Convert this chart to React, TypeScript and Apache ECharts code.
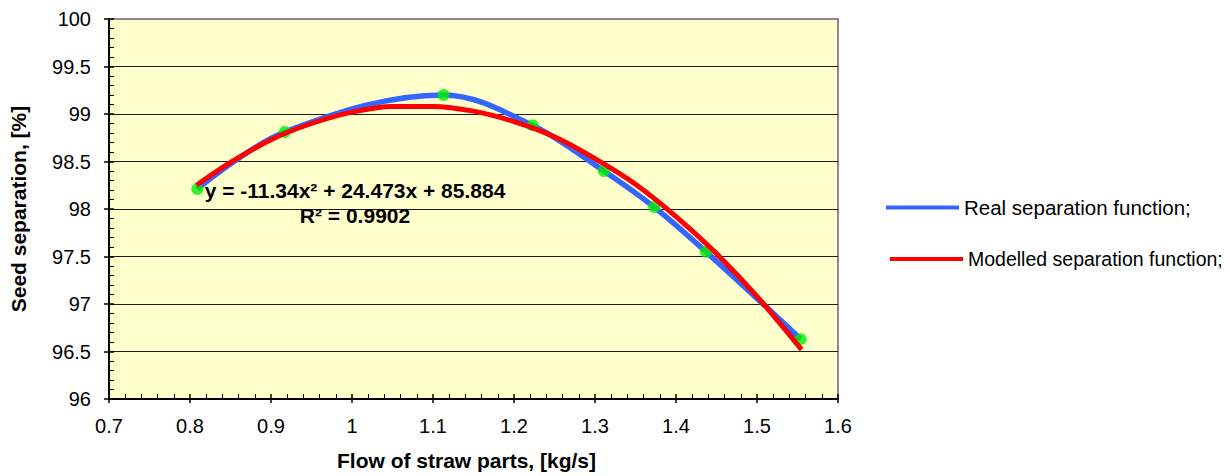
import React, { useEffect, useRef } from 'react';
import * as echarts from 'echarts';

// Axis ranges / ticks
const xMin = 0.7;
const xMax = 1.6;
const xStep = 0.1;
const yMin = 96;
const yMax = 100;
const yStep = 0.5;

// Measured points (real separation function)
const measuredX = [0.809, 0.917, 1.113, 1.223, 1.311, 1.373, 1.437, 1.554];
const measuredY = [98.21, 98.81, 99.2, 98.88, 98.4, 98.02, 97.55, 96.63];

// Modelled separation function (trend line)
const modelX = [0.808, 0.85, 0.9, 0.95, 1.0, 1.05, 1.1, 1.15, 1.2, 1.25, 1.3, 1.35, 1.4, 1.45, 1.5, 1.555];
const modelY = [98.25, 98.49, 98.73, 98.9, 99.02, 99.08, 99.08, 99.03, 98.92, 98.76, 98.53, 98.26, 97.92, 97.53, 97.08, 96.52];

const realName = 'Real separation function;';
const modelName = 'Modelled separation function;';
const equationText = 'y = -11.34x\u00B2 + 24.473x + 85.884';
const r2Text = 'R\u00B2 = 0.9902';
const xTitle = 'Flow of straw parts, [kg/s]';
const yTitle = 'Seed separation, [%]';

const FONT = 'Arial, "Liberation Sans", sans-serif';

export default function App() {
  const ref = useRef<HTMLDivElement>(null);
  useEffect(() => {
    document.body.style.margin = '0';
    const chart = echarts.init(ref.current!, null, { renderer: 'svg' });
    const splitColors: string[] = [];
    const nLines = Math.round((yMax - yMin) / yStep) + 1;
    for (let i = 0; i < nLines; i++) splitColors.push(i === nLines - 1 ? 'rgba(0,0,0,0)' : '#1a1a1a');

    const realData = measuredX.map((x, i) => [x, measuredY[i]]);
    const modelData = modelX.map((x, i) => [x, modelY[i]]);

    chart.setOption({
      animation: false,
      textStyle: { fontFamily: FONT },
      grid: {
        left: 109,
        top: 19,
        right: 392,
        bottom: 75,
        show: true,
        backgroundColor: '#FFFFCC',
        borderColor: '#8a8a8a',
        borderWidth: 2,
      },
      legend: [
        {
          data: [{ name: realName, icon: 'rect' }],
          left: 886,
          top: 197,
          padding: 0,
          itemWidth: 73,
          itemHeight: 4,
          selectedMode: false,
          textStyle: { fontSize: 20.5, color: '#000', fontFamily: FONT },
        },
        {
          data: [{ name: modelName, icon: 'rect' }],
          left: 890,
          top: 249,
          padding: 0,
          itemWidth: 73,
          itemHeight: 4,
          selectedMode: false,
          textStyle: { fontSize: 19.5, color: '#000', fontFamily: FONT },
        },
      ],
      xAxis: [
        {
          type: 'value',
          min: xMin,
          max: xMax,
          interval: xStep,
          position: 'bottom',
          name: xTitle,
          nameLocation: 'middle',
          nameGap: 51,
          nameTextStyle: { fontSize: 21, fontWeight: 'bold', color: '#000', fontFamily: FONT, padding: [0, 14, 0, 0] },
          axisLine: { show: true, onZero: false, lineStyle: { color: '#000', width: 2 } },
          axisTick: { show: true, inside: false, length: 4, lineStyle: { color: '#000', width: 1.5 } },
          axisLabel: { show: true, fontSize: 20, color: '#000', margin: 17, fontFamily: FONT },
          splitLine: { show: false },
        },
        {
          type: 'value',
          min: xMin,
          max: xMax,
          interval: xStep,
          position: 'bottom',
          axisLine: { show: false, onZero: false },
          axisTick: { show: true, inside: true, length: 5, lineStyle: { color: '#000', width: 1.5 } },
          minorTick: { show: true, splitNumber: 5, length: 5, lineStyle: { color: '#000', width: 1 } },
          axisLabel: { show: false },
          splitLine: { show: false },
        },
      ],
      yAxis: [
        {
          type: 'value',
          min: yMin,
          max: yMax,
          interval: yStep,
          position: 'left',
          name: yTitle,
          nameLocation: 'middle',
          nameGap: 80,
          nameTextStyle: { fontSize: 21, fontWeight: 'bold', color: '#000', fontFamily: FONT },
          axisLine: { show: true, onZero: false, lineStyle: { color: '#000', width: 2 } },
          axisTick: { show: true, inside: false, length: 5, lineStyle: { color: '#000', width: 1.5 } },
          axisLabel: { show: true, fontSize: 20, color: '#000', margin: 18, fontFamily: FONT },
          splitLine: { show: true, lineStyle: { color: splitColors, width: 1 } },
        },
        {
          type: 'value',
          min: yMin,
          max: yMax,
          interval: yStep,
          position: 'left',
          axisLine: { show: false, onZero: false },
          axisTick: { show: true, inside: true, length: 5, lineStyle: { color: '#000', width: 1.5 } },
          minorTick: { show: true, splitNumber: 5, length: 5, lineStyle: { color: '#000', width: 1 } },
          axisLabel: { show: false },
          splitLine: { show: false },
        },
      ],
      series: [
        {
          name: realName,
          type: 'line',
          xAxisIndex: 0,
          yAxisIndex: 0,
          data: realData,
          smooth: 0.35,
          showSymbol: false,
          color: '#3366FF',
          lineStyle: { color: '#3366FF', width: 5.5 },
          z: 2,
        },
        {
          name: 'points',
          type: 'scatter',
          xAxisIndex: 0,
          yAxisIndex: 0,
          data: realData,
          symbolSize: 12,
          itemStyle: { color: '#00F000' },
          z: 3,
        },
        {
          name: modelName,
          type: 'line',
          xAxisIndex: 0,
          yAxisIndex: 0,
          data: modelData,
          smooth: 0.3,
          showSymbol: false,
          color: '#FF0000',
          lineStyle: { color: '#FF0000', width: 5 },
          z: 4,
        },
      ],
      graphic: [
        {
          type: 'text',
          x: 355,
          y: 190,
          z: 10,
          style: {
            text: equationText,
            fontSize: 21,
            fontWeight: 'bold',
            fontFamily: FONT,
            fill: '#000',
            align: 'center',
            verticalAlign: 'middle',
          },
        },
        {
          type: 'text',
          x: 355,
          y: 215,
          z: 10,
          style: {
            text: r2Text,
            fontSize: 21,
            fontWeight: 'bold',
            fontFamily: FONT,
            fill: '#000',
            align: 'center',
            verticalAlign: 'middle',
          },
        },
      ],
    });
    return () => chart.dispose();
  }, []);
  return <div ref={ref} style={{ width: 1230, height: 476 }} />;
}
